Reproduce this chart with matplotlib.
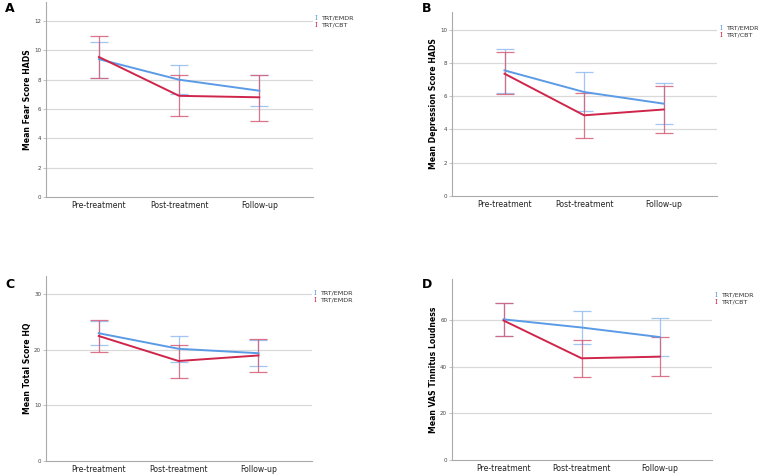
import matplotlib
matplotlib.use("Agg")
import matplotlib.pyplot as plt
import numpy as np

categories = ["Pre-treatment", "Post-treatment", "Follow-up"]

# Panel A - Fear HADS
a_emdr_mean = [9.4, 8.0, 7.25]
a_emdr_lo = [8.15, 7.0, 6.2]
a_emdr_hi = [10.6, 9.0, 8.35]
a_cbt_mean = [9.55, 6.9, 6.8]
a_cbt_lo = [8.15, 5.55, 5.2]
a_cbt_hi = [11.0, 8.3, 8.35]

# Panel B - Depression HADS
b_emdr_mean = [7.55, 6.25, 5.55]
b_emdr_lo = [6.2, 5.1, 4.3]
b_emdr_hi = [8.85, 7.45, 6.8]
b_cbt_mean = [7.35, 4.85, 5.2]
b_cbt_lo = [6.15, 3.5, 3.8]
b_cbt_hi = [8.65, 6.2, 6.6]

# Panel C - Total Score HQ
c_emdr_mean = [23.0, 20.2, 19.4]
c_emdr_lo = [20.8, 17.9, 17.1]
c_emdr_hi = [25.2, 22.5, 21.8]
c_cbt_mean = [22.5, 18.0, 19.0]
c_cbt_lo = [19.7, 15.0, 16.1]
c_cbt_hi = [25.4, 20.8, 21.9]

# Panel D - VAS Tinnitus Loudness
d_emdr_mean = [60.3, 56.8, 52.7]
d_emdr_lo = [53.0, 49.6, 44.6]
d_emdr_hi = [67.5, 64.0, 60.8]
d_cbt_mean = [59.8, 43.6, 44.3]
d_cbt_lo = [53.0, 35.7, 36.2]
d_cbt_hi = [67.3, 51.6, 52.6]

BLUE = "#5b9be6"
BLUE_ERR = "#8fbcef"
RED = "#d0254a"
RED_ERR = "#d65c78"

W, H = 758, 474
fig = plt.figure(figsize=(W / 100, H / 100), dpi=100)
plt.rcParams['font.family'] = ['DejaVu Sans']


def rect(l, r, t, b):
    return [l / W, 1 - b / H, (r - l) / W, (b - t) / H]


panels = [
    dict(rect=rect(46, 313, 2, 197), ylim=13.3, yticks=[0, 2, 4, 6, 8, 10, 12],
         ylabel="Mean Fear Score HADS", letter="A", lpos=(5, 9),
         legpos=(316, 18), labels=["TRT/EMDR", "TRT/CBT"],
         data=(a_emdr_mean, a_emdr_lo, a_emdr_hi, a_cbt_mean, a_cbt_lo, a_cbt_hi)),
    dict(rect=rect(452, 717, 12, 196), ylim=11.06, yticks=[0, 2, 4, 6, 8, 10],
         ylabel="Mean Depression Score HADS", letter="B", lpos=(422, 8),
         legpos=(721, 28), labels=["TRT/EMDR", "TRT/CBT"],
         data=(b_emdr_mean, b_emdr_lo, b_emdr_hi, b_cbt_mean, b_cbt_lo, b_cbt_hi)),
    dict(rect=rect(46, 312, 276, 461), ylim=33.3, yticks=[0, 10, 20, 30],
         ylabel="Mean Total Score HQ", letter="C", lpos=(5, 285),
         legpos=(315, 293), labels=["TRT/EMDR", "TRT/EMDR"],
         data=(c_emdr_mean, c_emdr_lo, c_emdr_hi, c_cbt_mean, c_cbt_lo, c_cbt_hi)),
    dict(rect=rect(452, 712, 279, 460), ylim=77.6, yticks=[0, 20, 40, 60],
         ylabel="Mean VAS Tinnitus Loudness", letter="D", lpos=(422, 285),
         legpos=(716, 295), labels=["TRT/EMDR", "TRT/CBT"],
         data=(d_emdr_mean, d_emdr_lo, d_emdr_hi, d_cbt_mean, d_cbt_lo, d_cbt_hi)),
]

x = np.arange(len(categories))
for p in panels:
    ax = fig.add_axes(p["rect"])
    em, elo, ehi, cm, clo, chi = p["data"]
    em, elo, ehi, cm, clo, chi = map(np.array, (em, elo, ehi, cm, clo, chi))
    for yt in p["yticks"][1:]:
        ax.axhline(yt, color="#d9d9d9", lw=0.9, zorder=0)
    ax.errorbar(x, em, yerr=[em - elo, ehi - em], fmt="none", ecolor=BLUE_ERR,
                elinewidth=0.9, capsize=6.5, capthick=0.9, alpha=0.85, zorder=2)
    ax.errorbar(x, cm, yerr=[cm - clo, chi - cm], fmt="none", ecolor=RED_ERR,
                elinewidth=0.9, capsize=6.5, capthick=0.9, alpha=0.85, zorder=2)
    ax.plot(x, em, color=BLUE, lw=1.4, zorder=3)
    ax.plot(x, cm, color=RED, lw=1.4, zorder=4)
    ax.set_xlim(-0.66, 2.67)
    ax.set_ylim(0, p["ylim"])
    ax.set_yticks(p["yticks"])
    ax.set_yticklabels([str(v) for v in p["yticks"]], fontsize=4, color="#444444")
    ax.set_xticks(x)
    ax.set_xticklabels(categories, fontsize=5.6, color="#222222")
    ax.tick_params(axis="x", length=0, pad=3)
    ax.tick_params(axis="y", length=2, width=0.5, color="#aaaaaa", pad=1.5)
    for s in ("top", "right"):
        ax.spines[s].set_visible(False)
    for s in ("left", "bottom"):
        ax.spines[s].set_color("#aaaaaa")
        ax.spines[s].set_linewidth(0.8)
    ax.set_ylabel(p["ylabel"], fontsize=5.6, fontweight="bold", labelpad=1.5)
    fig.text(p["lpos"][0] / W, 1 - p["lpos"][1] / H, p["letter"], fontsize=9,
             fontweight="bold", ha="left", va="center")
    lx, ly = p["legpos"]
    for i, (lab, col) in enumerate(zip(p["labels"], [BLUE, RED])):
        yy = 1 - (ly + i * 7.3) / H
        fig.text(lx / W, yy, "I", fontsize=5, color=col, ha="center", va="center",
                 family="DejaVu Serif")
        fig.text((lx + 5) / W, yy, lab, fontsize=4.6, color="#333333", ha="left",
                 va="center")

fig.savefig("out.png", dpi=100)
